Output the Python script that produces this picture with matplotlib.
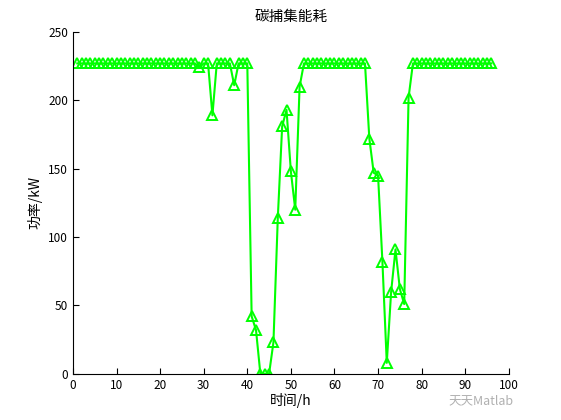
import matplotlib
matplotlib.use('Agg')
import matplotlib.pyplot as plt
import numpy as np

plt.rcParams['font.family'] = ['Noto Sans CJK SC', 'DejaVu Sans']

# hourly samples 1..96
hours = list(range(1, 97))
top = 227
power = [top] * 96
dips = {
    29: 224, 32: 189, 37: 211,
    41: 42, 42: 32, 43: 0, 44: 0, 45: 0, 46: 23, 47: 114, 48: 181,
    49: 193, 50: 148, 51: 120, 52: 210,
    68: 172, 69: 147, 70: 145, 71: 82, 72: 8, 73: 60, 74: 91,
    75: 62, 76: 51, 77: 202,
}
for h, v in dips.items():
    power[h - 1] = v

xticks = [0, 10, 20, 30, 40, 50, 60, 70, 80, 90, 100]
yticks = [0, 50, 100, 150, 200, 250]

fig = plt.figure(figsize=(5.61, 4.2), dpi=100)
ax = fig.add_axes([0.13, 0.11, 0.777, 0.814])
ax.plot(hours, power, '-^', color='#00ff00', linewidth=1.5,
        markersize=7, markerfacecolor='none', markeredgewidth=1.4)

ax.set_xlim(0, 100)
ax.set_ylim(0, 250)
ax.set_xticks(xticks)
ax.set_yticks(yticks)
ax.tick_params(direction='in', labelsize=8.5, length=4, width=0.8)
for s in ['top', 'right']:
    ax.spines[s].set_visible(False)
for s in ['left', 'bottom']:
    ax.spines[s].set_linewidth(0.8)

ax.set_title('碳捕集能耗', fontsize=10.5, pad=8)
ax.set_xlabel('时间/h', fontsize=10, labelpad=1)
ax.set_ylabel('功率/kW', fontsize=10, labelpad=4)

fig.text(0.80, 0.045, '天天Matlab', color='#b0b0b0', fontsize=9, ha='left', va='center')

fig.savefig('out.png', dpi=100)
plt.close(fig)
